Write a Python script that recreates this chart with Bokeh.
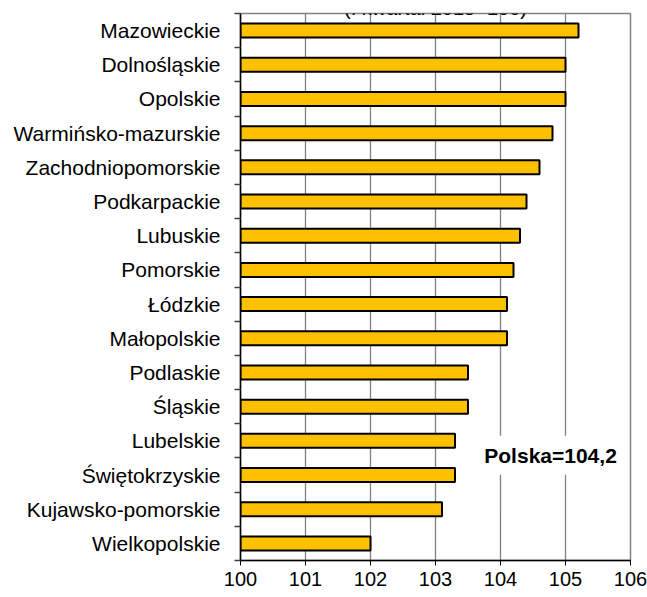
from bokeh.plotting import figure
from bokeh.models import FixedTicker, Label, Range1d, ColumnDataSource
from bokeh.embed import file_html
from bokeh.resources import INLINE

regions = ["Mazowieckie", "Dolnośląskie", "Opolskie", "Warmińsko-mazurskie",
           "Zachodniopomorskie", "Podkarpackie", "Lubuskie", "Pomorskie",
           "Łódzkie", "Małopolskie", "Podlaskie", "Śląskie", "Lubelskie",
           "Świętokrzyskie", "Kujawsko-pomorskie", "Wielkopolskie"]
values = [105.2, 105.0, 105.0, 104.8, 104.6, 104.4, 104.3, 104.2,
          104.1, 104.1, 103.5, 103.5, 103.3, 103.3, 103.1, 102.0]
x_ticks = [100, 101, 102, 103, 104, 105, 106]
title_text = "(I kwartał 2015=100)"
note_text = "Polska=104,2"
note_x = 104.77
note_y = 3.08

n = len(regions)
ypos = [n - i - 0.5 for i in range(n)]
src = ColumnDataSource(dict(y=ypos, right=values, left=[x_ticks[0]] * n))

FONT = "Liberation Sans"

p = figure(width=647, height=597, output_backend="svg", toolbar_location=None,
           x_range=Range1d(x_ticks[0], x_ticks[-1]), y_range=Range1d(0, n),
           min_border_left=240, min_border_right=17, min_border_top=13,
           min_border_bottom=37)
p.margin = (0, 0, 0, 0)

p.hbar(y="y", left="left", right="right", height=0.41, source=src,
       fill_color="#FFC000", line_color="black", line_width=2)

p.xgrid.grid_line_color = "#808080"
p.xgrid.grid_line_width = 1.3
p.ygrid.grid_line_color = None
p.outline_line_color = "#808080"
p.outline_line_width = 1.5

p.xaxis.ticker = FixedTicker(ticks=x_ticks)
p.xaxis.axis_line_color = "black"
p.xaxis.axis_line_width = 1.5
p.xaxis.major_tick_out = 5
p.xaxis.major_tick_in = 0
p.xaxis.minor_tick_line_color = None
p.xaxis.major_label_text_font = FONT
p.xaxis.major_label_text_font_size = "20px"
p.xaxis.major_label_text_color = "black"
p.xaxis.major_label_standoff = 6

p.yaxis.ticker = FixedTicker(ticks=ypos, minor_ticks=list(range(n + 1)))
p.yaxis.major_label_overrides = {y: r for y, r in zip(ypos, regions)}
p.yaxis.axis_line_color = "black"
p.yaxis.axis_line_width = 1.5
p.yaxis.major_tick_line_color = None
p.yaxis.major_tick_out = 0
p.yaxis.major_tick_in = 0
p.yaxis.minor_tick_out = 6
p.yaxis.minor_tick_in = 0
p.yaxis.minor_tick_line_color = "#404040"
p.yaxis.minor_tick_line_width = 1.3
p.yaxis.major_label_text_font = FONT
p.yaxis.major_label_text_font_size = "21px"
p.yaxis.major_label_text_color = "black"
p.yaxis.major_label_standoff = 14

p.add_layout(Label(x=note_x, y=note_y, text=note_text, text_font=FONT,
                   text_font_size="21px", text_font_style="bold",
                   text_color="black",
                   text_align="center", text_baseline="middle",
                   background_fill_color="white", padding=8))

p.add_layout(Label(x=(x_ticks[0] + x_ticks[-1]) / 2, y=n + 0.175, text=title_text,
                   text_font=FONT, text_font_size="20px", text_align="center",
                   text_color="black", text_baseline="alphabetic"))

open("out.html", "w").write(file_html(p, INLINE))
